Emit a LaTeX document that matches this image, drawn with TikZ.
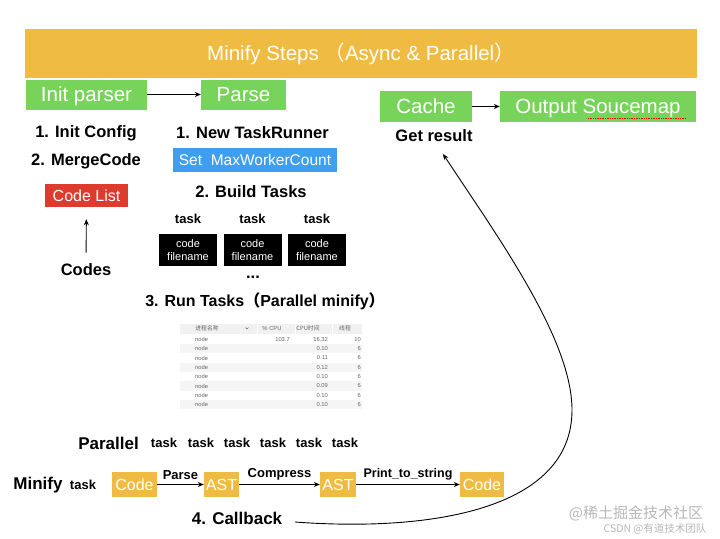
\documentclass[tikz,border=0pt]{standalone}
\usepackage{fontspec}
\setmainfont{Liberation Sans}
\newfontfamily\cjk{Noto Sans CJK SC}
\usetikzlibrary{arrows.meta}
\definecolor{mygreen}{HTML}{78D35B}
\definecolor{myorange}{HTML}{F0BB42}
\definecolor{myred}{HTML}{DC3B2E}
\definecolor{myblue}{HTML}{3E9EF0}
\definecolor{tabgray}{HTML}{F1F1F1}
\definecolor{tabtext}{HTML}{666666}
\definecolor{wmark}{HTML}{B8B8B8}
\newcommand\fsz[1]{\fontsize{#1}{#1}\selectfont}
\tikzset{
  fillbox/.style={fill=#1, text=white, inner sep=0pt, anchor=center},
  gbox/.style={fillbox=mygreen, font=\fsz{20.5}, text height=14.7pt, text depth=0pt},
  obox/.style={fillbox=myorange, font=\fsz{16}, minimum height=25, text height=11.5pt, text depth=0pt},
  kbox/.style={fillbox=black, font=\fsz{11}, align=center, minimum width=58, minimum height=32},
  lbl/.style={inner sep=0pt, font=\bfseries\fsz{16.5}},
  sml/.style={inner sep=0pt, font=\bfseries\fsz{13}},
  tabt/.style={inner sep=0pt, text=tabtext, font=\fsz{5.8}},
  arr/.style={-{Stealth[length=6pt,width=5pt]}, line width=0.9pt},
}
\begin{document}
\begin{tikzpicture}[x=1pt,y=-1pt]
\useasboundingbox (0,0) rectangle (720,538);
\fill[white] (0,0) rectangle (720,538);

% title
\node[fillbox=myorange, minimum width=672, minimum height=49, font=\fsz{20.5}, text height=14.7pt, text depth=0pt] (title) at (361,53.5)
  {Minify Steps {\cjk （}Async \& Parallel{\cjk ）}};

% Init parser / Parse
\node[gbox, minimum width=121, minimum height=30] (init) at (86.5,94.5) {Init parser};
\node[gbox, minimum width=85, minimum height=30] (parse) at (243.5,94.5) {Parse};
\draw[arr] (init) -- (parse);

\node[lbl] (ic) at (86,133) {1. Init Config};
\node[lbl] (mc) at (86,161) {2. MergeCode};
\node[fillbox=myred, minimum width=83, minimum height=23, font=\fsz{16}, text height=11.5pt, text depth=0pt] (cl) at (86.5,195.5) {Code List};
\node[lbl] (codes) at (86,270) {Codes};
\draw[arr, shorten <=11pt, shorten >=12pt] (codes) -- (cl);

\node[lbl] (ntr) at (252.5,133) {1. New TaskRunner};
\node[fillbox=myblue, minimum width=164, minimum height=24, font=\fsz{15.5}, text height=11.2pt, text depth=0pt] (mwc) at (255,160) {Set\ \ MaxWorkerCount};
\node[lbl] (bt) at (251,192) {2. Build Tasks};

\node[sml] (t1) at (188,219) {task};
\node[sml] (t2) at (252.5,219) {task};
\node[sml] (t3) at (317,219) {task};
\node[kbox] (k1) at (188,250) {code\\[2pt]filename};
\node[kbox] (k2) at (252.5,250) {code\\[2pt]filename};
\node[kbox] (k3) at (317,250) {code\\[2pt]filename};
\node[lbl] (dots) at (253,277) {...};

\node[lbl, font=\bfseries\fsz{16}] (rt) at (265,301) {3. Run Tasks{\cjk\bfseries （}Parallel minify{\cjk\bfseries ）}};

% table (activity monitor screenshot)
\fill[tabgray] (180,323.5) rectangle (362,333.5);
\foreach \i in {1,3,5,7} {
  \fill[tabgray!70] (180,{334.7+\i*9.33}) rectangle (362,{334.7+(\i+1)*9.33});
}
\draw[white, line width=0.8pt] (257,323.5) -- (257,333.5) (295,323.5) -- (295,333.5) (332,323.5) -- (332,333.5);
\node[tabt, font=\cjk\fsz{5.8}] (h1) at (207,328.5) {进程名称};
\draw[tabtext, line width=0.4pt] (245.5,327.5) -- (247,329) -- (248.5,327.5);
\node[tabt] (h2) at (272,328.5) {\% CPU};
\node[tabt, font=\cjk\fsz{5.8}] (h3) at (308,328.5) {CPU时间};
\node[tabt, font=\cjk\fsz{5.8}] (h4) at (345,328.5) {线程};
\foreach \t [count=\i from 0] in {16.32,0.10,0.11,0.12,0.10,0.09,0.10,0.10} {
  \node[tabt, anchor=west] at (195,{339.3+\i*9.33}) {node};
  \node[tabt, anchor=east] at (328,{339.3+\i*9.33}) {\t};
}
\node[tabt, anchor=east] (cpu) at (290,339.3) {103.7};
\node[tabt, anchor=east] (thr) at (361,339.3) {10};
\foreach \i in {1,...,7} {
  \node[tabt, anchor=east] at (361,{339.3+\i*9.33}) {6};
}

% Cache / Output
\node[gbox, minimum width=92, minimum height=31] (cache) at (426,106.5) {Cache};
\node[gbox, minimum width=196, minimum height=31] (out) at (598,106.5) {Output Soucemap};
\draw[arr] (cache) -- (out);
\draw[red, densely dotted, line width=0.7pt] (588,118) -- (686,118);
\node[lbl] (gr) at (434,136) {Get result};

% Parallel row
\node[lbl, font=\bfseries\fsz{17}] (par) at (108.5,443) {Parallel};
\foreach \x [count=\i] in {164,201,237,273,309,345} {
  \node[sml] (pt\i) at (\x,443) {task};
}

% Minify row
\node[lbl, font=\bfseries\fsz{17}] (mini) at (38,485) {Minify};
\node[sml] (mtask) at (83,485) {task};
\node[obox, minimum width=45] (c1) at (134.5,484.5) {Code};
\node[obox, minimum width=35] (a1) at (221.5,484.5) {AST};
\node[obox, minimum width=36] (a2) at (338,484.5) {AST};
\node[obox, minimum width=44] (c2) at (482,484.5) {Code};
\draw[arr] (c1) -- node[sml, above=4pt] {Parse} (a1);
\draw[arr] (a1) -- node[sml, above=4pt] {Compress} (a2);
\draw[arr] (a2) -- node[sml, above=4pt, font=\bfseries\fsz{12.5}] {Print\_to\_string} (c2);

\node[lbl, font=\bfseries\fsz{17}] (cb) at (237,518) {4. Callback};
\coordinate (cbs) at (295,522);
\coordinate (cbm) at (572,410);
\coordinate (cbe) at (443,154);
\draw[arr] (cbs) .. controls (430,532) and (572,510) .. (cbm)
  .. controls (572,340) and (500,240) .. (cbe);

% watermarks
\node[inner sep=0pt, text=wmark, font=\cjk\fsz{15}] (wm1) at (636,513) {@稀土掘金技术社区};
\node[inner sep=0pt, text=wmark, font=\cjk\fsz{10.5}] (wm2) at (655,529) {CSDN @有道技术团队};
\end{tikzpicture}
\end{document}
